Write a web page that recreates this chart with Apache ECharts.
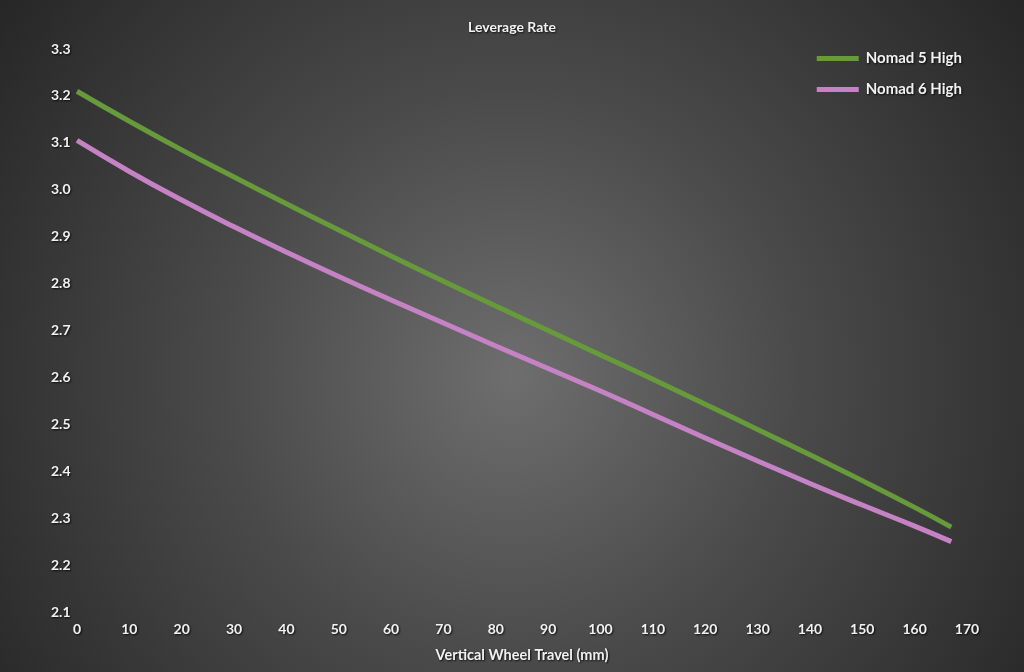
<!DOCTYPE html>
<html>
<head>
<meta charset="utf-8">
<script src="https://cdn.jsdelivr.net/npm/echarts@6/dist/echarts.min.js"></script>
<style>
html,body{margin:0;padding:0;background:#333;}
#chart{width:1024px;height:672px;}
</style>
</head>
<body>
<div id="chart"></div>
<script>
const travel = [0, 10, 20, 30, 40, 50, 60, 70, 80, 90, 100, 110, 120, 130, 140, 150, 160, 167];
const nomad5High = [3.21, 3.146, 3.085, 3.027, 2.970, 2.914, 2.859, 2.805, 2.752, 2.700, 2.648, 2.596, 2.543, 2.489, 2.435, 2.380, 2.323, 2.281];
const nomad6High = [3.105, 3.039, 2.978, 2.921, 2.867, 2.815, 2.765, 2.716, 2.667, 2.619, 2.571, 2.521, 2.471, 2.422, 2.374, 2.328, 2.283, 2.250];
const seriesNames = ['Nomad 5 High', 'Nomad 6 High'];

const font = 'Lato, "Open Sans", sans-serif';
const shadow = {textShadowColor: 'rgba(0,0,0,0.8)', textShadowBlur: 2, textShadowOffsetX: 1, textShadowOffsetY: 1};

const chart = echarts.init(document.getElementById('chart'));
chart.setOption({
  backgroundColor: {
    type: 'radial', x: 0.5, y: 0.56, r: 0.95,
    colorStops: [
      {offset: 0, color: '#6e6e6e'},
      {offset: 0.45, color: '#4a4a4a'},
      {offset: 1, color: '#262626'}
    ]
  },
  animation: false,
  title: {
    text: 'Leverage Rate', left: 'center', top: 15,
    textStyle: Object.assign({color: '#f2f2f2', fontSize: 14, fontWeight: 'bold', fontFamily: font}, shadow)
  },
  legend: {
    orient: 'vertical', right: 57, top: 46,
    icon: 'rect', itemWidth: 42, itemHeight: 5, itemGap: 16,
    textStyle: Object.assign({color: '#f2f2f2', fontSize: 15, fontWeight: 'bold', fontFamily: font, padding: [0,0,0,2]}, shadow),
    data: seriesNames
  },
  grid: {left: 77, right: 57, top: 49, bottom: 60},
  xAxis: {
    type: 'value', min: 0, max: 170, interval: 10,
    name: 'Vertical Wheel Travel (mm)', nameLocation: 'middle', nameGap: 36,
    nameTextStyle: Object.assign({color: '#f2f2f2', fontSize: 14.5, fontWeight: 'bold', fontFamily: font}, shadow),
    axisLine: {show: false}, axisTick: {show: false}, splitLine: {show: false},
    axisLabel: Object.assign({color: '#f2f2f2', fontSize: 14, fontWeight: 'bold', fontFamily: font, margin: 10}, shadow)
  },
  yAxis: {
    type: 'value', min: 2.1, max: 3.3, interval: 0.1,
    axisLine: {show: false}, axisTick: {show: false}, splitLine: {show: false},
    axisLabel: Object.assign({color: '#f2f2f2', fontSize: 14, fontWeight: 'bold', fontFamily: font, margin: 26, align: 'left',
      formatter: v => v.toFixed(1)}, shadow)
  },
  series: [
    {name: seriesNames[0], type: 'line', smooth: true, showSymbol: false,
     lineStyle: {color: '#669a3b', width: 5}, itemStyle: {color: '#669a3b'},
     data: travel.map((x, i) => [x, nomad5High[i]])},
    {name: seriesNames[1], type: 'line', smooth: true, showSymbol: false,
     lineStyle: {color: '#c582c4', width: 5}, itemStyle: {color: '#c582c4'},
     data: travel.map((x, i) => [x, nomad6High[i]])}
  ]
});
</script>
</body>
</html>
